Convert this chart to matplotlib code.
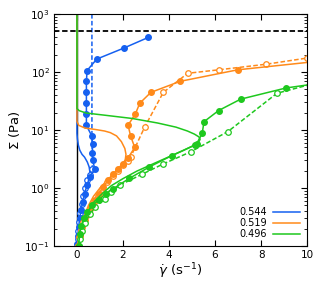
import numpy as np
import matplotlib
matplotlib.use("Agg")
import matplotlib.pyplot as plt

blue = "#1560f0"
orange = "#ff8a1a"
green = "#1ec81e"

# phi = 0.544
b_fill_x = [0.015, 0.04, 0.07, 0.12, 0.17, 0.25, 0.33, 0.44, 0.55, 0.78, 0.68, 0.67, 0.68, 0.65,
            0.41, 0.41, 0.41, 0.41, 0.41, 0.44, 0.86, 2.03, 3.10]
b_fill_y = [0.11, 0.15, 0.21, 0.30, 0.41, 0.58, 0.80, 1.12, 1.56, 2.1, 3.0, 4.0, 5.7, 7.8,
            12, 19, 29, 45, 69, 106, 167, 258, 395]
b_open_x = [0.65, 0.65, 0.66, 0.68, 0.66, 0.56, 0.45, 0.36, 0.28, 0.21, 0.15, 0.10, 0.06, 0.03]
b_open_y = [1000, 8.5, 5.0, 3.0, 2.1, 1.7, 1.35, 1.0, 0.72, 0.52, 0.37, 0.26, 0.18, 0.13]
b_mod_x = [0, 0, 0.02, 0.06, 0.12, 0.22, 0.33, 0.45, 0.53, 0.56, 0.52, 0.44, 0.35, 0.26, 0.18, 0.11, 0.06, 0.02]
b_mod_y = [1000, 8.8, 7.0, 5.5, 4.5, 3.8, 3.4, 2.8, 2.3, 1.9, 1.5, 1.15, 0.85, 0.6, 0.4, 0.25, 0.16, 0.1]

# phi = 0.519
o_fill_x = [0.05, 0.12, 0.22, 0.33, 0.48, 0.62, 0.78, 0.95, 1.15, 1.35, 1.57, 1.78, 1.98, 2.22,
            2.51, 2.33, 2.22, 2.54, 2.73, 3.21, 4.48, 6.98, 11]
o_fill_y = [0.1, 0.15, 0.21, 0.28, 0.36, 0.47, 0.61, 0.8, 1.05, 1.35, 1.75, 2.15, 2.6, 3.3,
            5.0, 7.9, 12.1, 19, 29, 44.5, 69, 109, 161]
o_open_x = [0.03, 0.1, 0.18, 0.28, 0.42, 0.57, 0.72, 0.9, 1.1, 1.32, 1.55, 1.78, 2.0, 2.2, 2.33,
            2.95, 3.75, 4.81, 6.15, 8.21, 10.0, 11]
o_open_y = [0.1, 0.14, 0.19, 0.26, 0.34, 0.44, 0.57, 0.74, 0.96, 1.25, 1.6, 2.0, 2.5, 2.95, 3.4,
            11.4, 44.5, 95, 109, 136, 174, 195]
o_mod_x = [0, 0, 0.08, 0.35, 0.8, 1.2, 1.45, 1.72, 1.93, 2.08, 2.13, 2.1, 2.0, 1.85, 1.6, 1.3,
           1.0, 0.72, 0.5, 0.32, 0.18, 0.08, 0.02]
o_mod_y = [1000, 14, 12, 10.8, 10.2, 9.6, 9.0, 7.9, 6.3, 4.8, 3.8, 3.1, 2.6, 2.2, 1.75, 1.35,
           1.0, 0.72, 0.5, 0.33, 0.21, 0.14, 0.1]

# phi = 0.496
g_fill_x = [0.07, 0.12, 0.18, 0.3, 0.45, 0.65, 0.95, 1.25, 1.57, 2.27, 3.14, 4.11, 5.13, 5.2,
            5.44, 5.52, 6.15, 7.11, 9.08, 11]
g_fill_y = [0.1, 0.16, 0.22, 0.3, 0.38, 0.5, 0.62, 0.8, 0.97, 1.46, 2.3, 3.6, 5.5, 5.8,
            8.7, 13.9, 21.6, 34, 53, 68]
g_open_x = [0.1, 0.15, 0.22, 0.35, 0.55, 0.8, 1.2, 1.5, 1.86, 2.81, 3.75, 4.94, 6.56, 8.69, 11]
g_open_y = [0.1, 0.13, 0.18, 0.25, 0.35, 0.47, 0.65, 0.85, 1.12, 1.71, 2.6, 4.2, 9.4, 43, 75]
g_mod_x = [0, 0, 0.1, 0.4, 1.2, 2.4, 3.5, 4.3, 4.8, 5.1, 5.3, 5.35, 5.3, 5.15, 4.6, 4.0, 3.3,
           2.6, 2.0, 1.5, 1.1, 0.75, 0.5, 0.3, 0.15, 0.05]
g_mod_y = [1000, 23.4, 21.5, 19.6, 18, 15.8, 13.2, 11.2, 9.6, 8.5, 7.6, 6.9, 6.3, 5.6, 4.4, 3.45,
           2.6, 1.95, 1.45, 1.1, 0.8, 0.58, 0.4, 0.27, 0.17, 0.1]

labels = ["0.544", "0.519", "0.496"]
sigma_max = 500

fig = plt.figure(figsize=(3.25, 2.86), dpi=100)
ax = fig.add_axes([0.166, 0.14, 0.779, 0.811])

ms = 4.0
lw = 1.1
ax.plot([0, 0], [0.1, 1000], color="black", lw=1.0)

for (mx, my, fx, fy, ox, oy, c, lab, oev) in [
        (b_mod_x, b_mod_y, b_fill_x, b_fill_y, b_open_x, b_open_y, blue, labels[0], 4),
        (o_mod_x, o_mod_y, o_fill_x, o_fill_y, o_open_x, o_open_y, orange, labels[1], 0),
        (g_mod_x, g_mod_y, g_fill_x, g_fill_y, g_open_x, g_open_y, green, labels[2], 0)]:
    ax.plot(mx, my, color=c, lw=lw, label=lab)
    ax.plot(ox, oy, color=c, lw=lw, ls=(0, (3, 1.5)), marker="o", ms=ms, mfc="white",
            mec=c, mew=0.9, markevery=slice(oev, None))
    ax.plot(fx, fy, color=c, lw=lw, marker="o", ms=ms, mfc=c, mec=c)

ax.axhline(sigma_max, color="black", lw=1.3, ls=(0, (3, 1.5)))

ax.set_yscale("log")
ax.set_xlim(-1, 10)
ax.set_ylim(0.1, 1000)
ax.set_xticks([0, 2, 4, 6, 8, 10])
ax.tick_params(which="both", direction="in", top=True, right=True, labelsize=7.5, pad=3)
ax.tick_params(which="major", length=4)
ax.tick_params(which="minor", length=2)
ax.xaxis.set_minor_locator(matplotlib.ticker.NullLocator())
ax.set_xlabel(r"$\dot{\gamma}$ (s$^{-1}$)", fontsize=9.5, labelpad=1)
ax.set_ylabel(r"$\Sigma$ (Pa)", fontsize=9.5, labelpad=2)

leg = ax.legend(loc="lower right", frameon=False, markerfirst=False, fontsize=7,
                handlelength=2.8, labelspacing=0.1, borderaxespad=0.3, handletextpad=0.6)

fig.savefig("out.png", dpi=100)
